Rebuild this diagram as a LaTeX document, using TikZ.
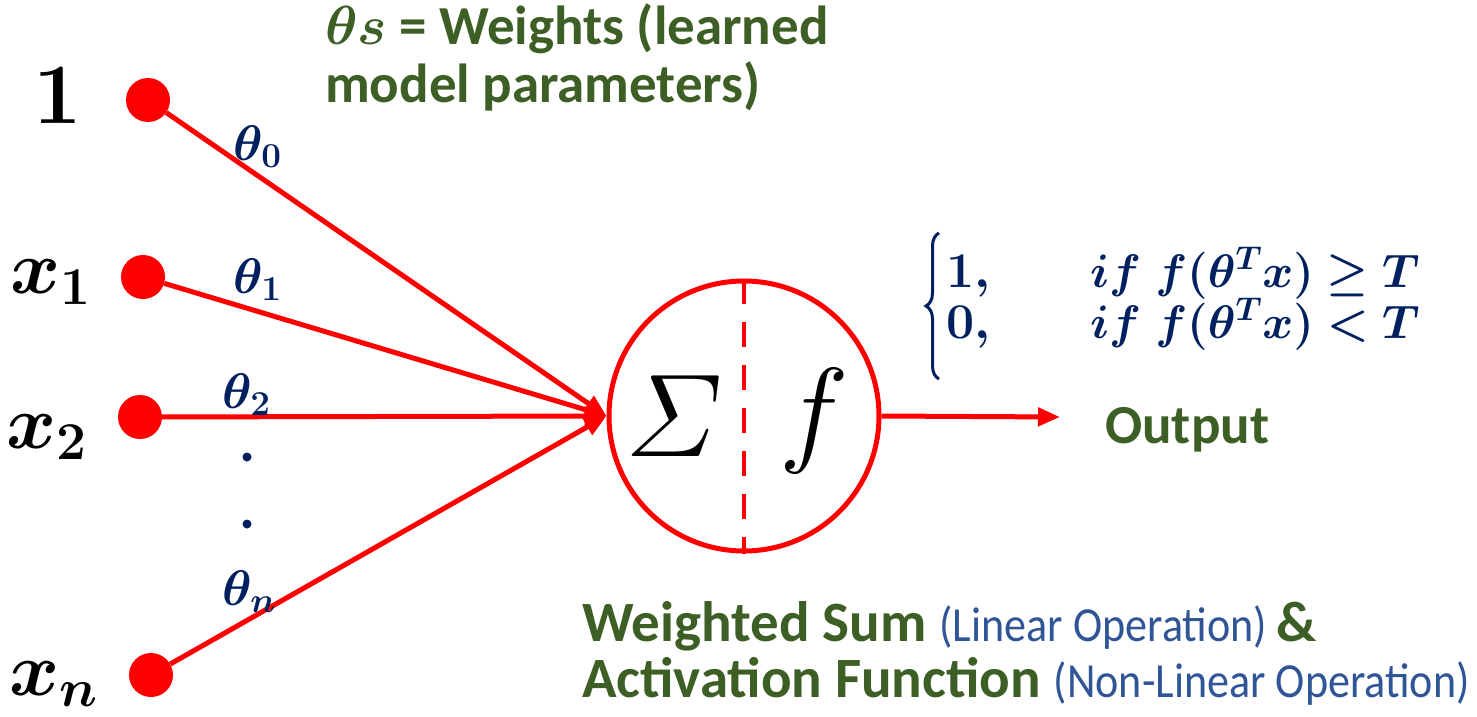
\documentclass[tikz,border=0pt]{standalone}
\usepackage{fix-cm}
\usepackage{amsmath}
\usepackage{bm}
\usepackage{fontspec}
\newfontfamily\carlito{Carlito}
\newfontfamily\carlitoN[FakeStretch=0.9]{Carlito}
\usetikzlibrary{arrows.meta,decorations.pathreplacing}
\definecolor{dgreen}{HTML}{3D5F26}
\definecolor{wblue}{HTML}{002060}
\definecolor{pblue}{HTML}{2F5597}
\newcommand\paren[1]{{\color{pblue}\carlitoN\mdseries\fontsize{49}{57}\selectfont #1}}
\begin{document}
\begin{tikzpicture}[x=1pt,y=-1pt,
  redline/.style={draw=red, line width=5pt},
  arr/.style={redline, -{Triangle[length=22pt,width=18pt]}},
  dot/.style={circle, fill=red, minimum size=44pt, inner sep=0pt},
  inlab/.style={anchor=base west, inner sep=0pt, font=\fontsize{76}{80}\selectfont},
  wlab/.style={anchor=base west, inner sep=0pt, text=wblue, font=\fontsize{50}{56}\selectfont},
  gtext/.style={anchor=base west, inner sep=0pt, text=dgreen, align=left,
    font=\carlito\bfseries\fontsize{57}{57}\selectfont},
]
\useasboundingbox (0,0) rectangle (1477,717);
% input dots
\node[dot] (d0) at (148,100) {};
\node[dot] (d1) at (143,277) {};
\node[dot] (d2) at (140,417) {};
\node[dot] (dn) at (151,675) {};
% neuron
\node[circle, draw=red, line width=5pt, minimum size=270pt, inner sep=0pt] (neuron) at (744,416) {};
\draw[red, line width=4pt, dash pattern=on 25pt off 18pt] (neuron.north) -- (neuron.south);
\node[inner sep=0pt, font=\fontsize{118}{120}\selectfont] (sig) at (674,416) {$\varSigma$};
\node[inner sep=0pt, font=\fontsize{118}{120}\selectfont] (fun) at (814,421) {$f$};
% connectors
\draw[arr] (d0) -- (neuron.west);
\draw[arr] (d1) -- (neuron.west);
\draw[arr] (d2) -- (neuron.west);
\draw[arr] (dn) -- (neuron.west);
\coordinate (out) at (1060,417);
\draw[arr] (neuron.east) -- (out);
% input labels
\node[inlab, font=\fontsize{86}{90}\selectfont] (l0) at (33,123) {$\bm{1}$};
\node[inlab] (l1) at (10,293) {$\bm{x}_{\bm{1}}$};
\node[inlab] (l2) at (6,448) {$\bm{x}_{\bm{2}}$};
\node[inlab] (ln) at (9,695) {$\bm{x}_{\bm{n}}$};
% weight labels
\node[wlab] (t0) at (233,160) {$\bm{\theta}_{\bm{0}}$};
\node[wlab] (t1) at (233,293) {$\bm{\theta}_{\bm{1}}$};
\node[wlab] (t2) at (222,408) {$\bm{\theta}_{\bm{2}}$};
\node[wlab] (tn) at (222,605) {$\bm{\theta}_{\bm{n}}$};
\fill[wblue] (247,457) circle (4.5pt);
\fill[wblue] (247,524) circle (4.5pt);
% cases
\draw[wblue, line width=3pt, decorate, decoration={brace, amplitude=13pt}] (939,379) -- (939,233);
\node[wlab] (c1a) at (946,287) {$\bm{1,}$};
\node[wlab, font=\fontsize{47}{56}\selectfont] (c1b) at (1090,287) {$\bm{if\ f(\theta^T x) \geq T}$};
\node[wlab] (c2a) at (946,338) {$\bm{0,}$};
\node[wlab, font=\fontsize{47}{56}\selectfont] (c2b) at (1090,338) {$\bm{if\ f(\theta^T x) < T}$};
% texts
\node[gtext, font=\carlito\bfseries\fontsize{55}{57}\selectfont] (wt1) at (325,45) {$\bm{\theta s}$ = Weights (learned};
\node[gtext, font=\carlito\bfseries\fontsize{55}{57}\selectfont] (wt2) at (325,102) {model parameters)};
\node[gtext, font=\carlito\bfseries\fontsize{55}{57}\selectfont] (outlab) at (1105,443) {Output};
\node[gtext] (bot1) at (582,641) {Weighted Sum \paren{(Linear Operation)}\,\&};
\node[gtext] (bot2) at (582,697) {Activation Function \paren{(Non-Linear Operation)}};
\end{tikzpicture}
\end{document}
